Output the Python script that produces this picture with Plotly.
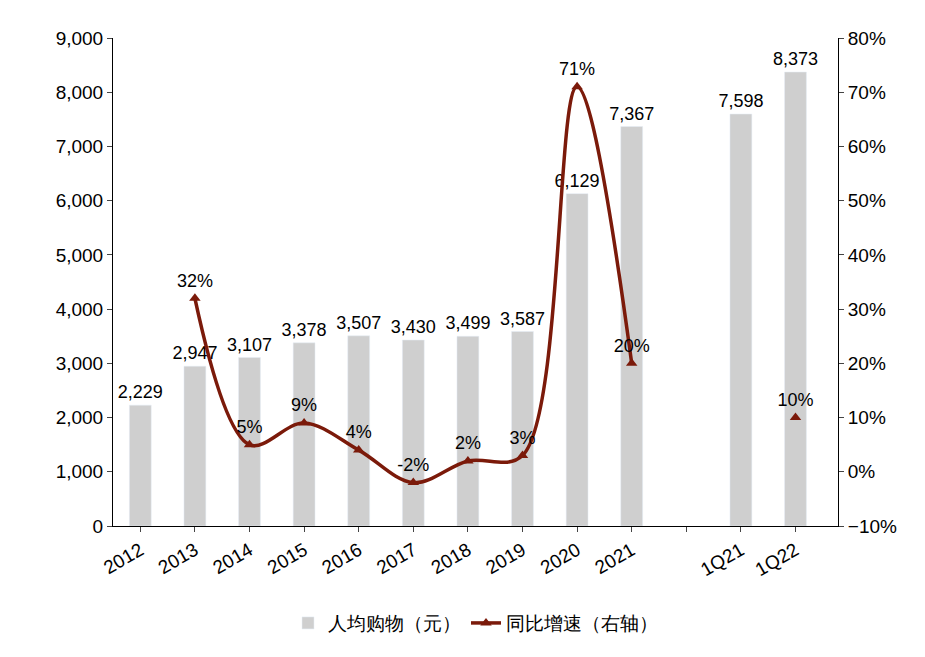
import plotly.graph_objects as go

categories = ["2012", "2013", "2014", "2015", "2016", "2017", "2018", "2019", "2020", "2021", " ", "1Q21", "1Q22"]
spend = [2229, 2947, 3107, 3378, 3507, 3430, 3499, 3587, 6129, 7367, None, 7598, 8373]
growth_years = ["2013", "2014", "2015", "2016", "2017", "2018", "2019", "2020", "2021"]
growth = [32, 5, 9, 4, -2, 2, 3, 71, 20]
growth_q = ["1Q22"]
growth_q_vals = [10]

font = dict(family="Liberation Sans, Arial", size=18, color="black")
red = "#7B1A0A"

fig = go.Figure()
fig.add_trace(go.Bar(
    x=categories, y=spend, name="人均购物（元）", width=0.4,
    marker_color="#CFCFCF",
    text=[f"{v:,}" if v else "" for v in spend], textposition="outside",
    constraintext="none", textfont=font, cliponaxis=False,
))
fig.add_trace(go.Scatter(
    x=growth_years, y=growth, name="同比增速（右轴）", yaxis="y2",
    mode="lines+markers+text", line=dict(color=red, width=3.5, shape="spline"),
    marker=dict(symbol="triangle-up", size=10, color=red),
    text=[f"{v}%" for v in growth], textposition="top center",
    textfont=font, cliponaxis=False,
))
fig.add_trace(go.Scatter(
    x=growth_q, y=growth_q_vals, yaxis="y2", showlegend=False,
    mode="markers+text", marker=dict(symbol="triangle-up", size=10, color=red),
    text=[f"{v}%" for v in growth_q_vals], textposition="top center",
    textfont=font, cliponaxis=False,
))

fig.update_layout(
    width=925, height=657, plot_bgcolor="white", paper_bgcolor="white",
    margin=dict(l=105, r=95, t=30, b=139),
    font=font, bargap=0.5,
    xaxis=dict(type="category", categoryorder="array", categoryarray=categories,
               tickangle=-30, showline=True, linecolor="black", ticks="outside",
               tickfont=dict(size=19)),
    yaxis=dict(range=[0, 9000], dtick=1000, tickformat=",", showgrid=False,
               showline=True, linecolor="black", ticks="outside", tickfont=dict(size=19)),
    yaxis2=dict(range=[-10, 80], dtick=10, ticksuffix="%", overlaying="y", side="right",
                showgrid=False, showline=True, linecolor="black", ticks="outside",
                tickfont=dict(size=19)),
    legend=dict(orientation="h", x=0.5, xanchor="center", y=-0.16, yanchor="top",
                font=dict(size=19)),
)

fig.write_html("out.html")
